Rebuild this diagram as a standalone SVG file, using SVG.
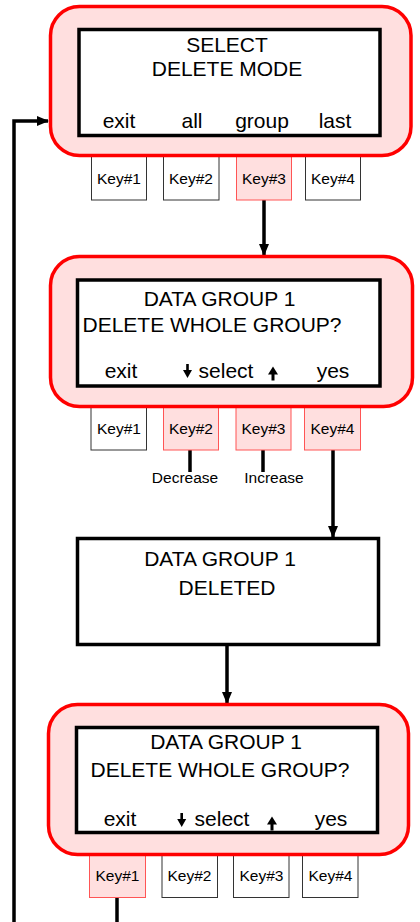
<svg xmlns="http://www.w3.org/2000/svg" width="420" height="922" viewBox="0 0 420 922">
<defs>
<style>
.outer{fill:#ffdfdf;stroke:#ff0000;stroke-width:3.5}
.inner{fill:#ffffff;stroke:#000000;stroke-width:3.5}
.key{fill:#ffffff;stroke:#333333;stroke-width:1}
.keyon{fill:#ffdfdf;stroke:#ff5555;stroke-width:1}
.t{font-family:"Liberation Sans",Arial,sans-serif;font-size:21px;fill:#000;text-anchor:middle}
.k{font-family:"Liberation Sans",Arial,sans-serif;font-size:15.5px;fill:#000;text-anchor:middle}
.c{fill:none;stroke:#000;stroke-width:3.5}
</style>
<marker id="ah" markerWidth="12" markerHeight="12" viewBox="0 0 12 12" refX="11" refY="6" orient="auto" markerUnits="userSpaceOnUse">
<path d="M0,1 L12,6 L0,11 z" fill="#000"/>
</marker>
<path id="dn" d="M-1.3,-14 h2.6 v6 h3.2 L0,0 L-4.5,-8 h3.2 z" fill="#000"/>
<path id="up" d="M-1.5,14 h3 v-6 h3.5 L0,0 L-5,8 h3.5 z" fill="#000"/>
</defs>

<g id="connectors">
<path class="c" d="M264,200 V255" marker-end="url(#ah)"/>
<path class="c" d="M190,450 V472"/>
<path class="c" d="M263,450 V472"/>
<path class="c" d="M333,450 V537" marker-end="url(#ah)"/>
<path class="c" d="M227,645 V703" marker-end="url(#ah)"/>
<path class="c" d="M117,897 V922"/>
<path class="c" d="M14,922 V121 H48" marker-end="url(#ah)"/>
</g>

<g id="node1">
<rect class="key" x="91.5" y="150" width="55" height="50"/>
<rect class="key" x="163.5" y="150" width="55.5" height="50"/>
<rect class="keyon" x="236.5" y="150" width="55" height="50"/>
<rect class="key" x="305.5" y="150" width="55" height="50"/>
<text class="k" x="119" y="184">Key#1</text>
<text class="k" x="191" y="184">Key#2</text>
<text class="k" x="264" y="184">Key#3</text>
<text class="k" x="333" y="184">Key#4</text>
<rect class="outer" x="50.5" y="6.5" width="360.5" height="149" rx="29"/>
<rect class="inner" x="79" y="29.5" width="301" height="106"/>
<text class="t" x="227" y="52">SELECT</text>
<text class="t" x="227" y="76">DELETE MODE</text>
<text class="t" x="119" y="128">exit</text>
<text class="t" x="192" y="128">all</text>
<text class="t" x="262" y="128">group</text>
<text class="t" x="335" y="128">last</text>
</g>

<g id="node2">
<rect class="key" x="91" y="400" width="55.5" height="50"/>
<rect class="keyon" x="163.5" y="400" width="55" height="50"/>
<rect class="keyon" x="236" y="400" width="55" height="50"/>
<rect class="keyon" x="304.5" y="400" width="56" height="50"/>
<text class="k" x="119" y="434">Key#1</text>
<text class="k" x="191" y="434">Key#2</text>
<text class="k" x="263.5" y="434">Key#3</text>
<text class="k" x="332.5" y="434">Key#4</text>
<rect class="outer" x="50.5" y="256.5" width="362" height="150" rx="29"/>
<rect class="inner" x="77.5" y="280" width="302.5" height="106"/>
<text class="t" x="219.5" y="306">DATA GROUP 1</text>
<text class="t" x="212" y="332">DELETE WHOLE GROUP?</text>
<text class="t" x="121" y="378">exit</text>
<text class="t" x="226" y="378">select</text>
<text class="t" x="333" y="378">yes</text>
<use href="#dn" x="187.5" y="378"/>
<use href="#up" x="273" y="366.5"/>
</g>

<g id="labels">
<text class="k" x="185" y="483">Decrease</text>
<text class="k" x="274" y="483">Increase</text>
</g>

<g id="node3">
<rect class="inner" x="77.5" y="538.5" width="301" height="106"/>
<text class="t" x="220" y="566">DATA GROUP 1</text>
<text class="t" x="227" y="595">DELETED</text>
</g>

<g id="node4">
<rect class="keyon" x="89.5" y="848" width="56" height="49.5"/>
<rect class="key" x="162" y="848" width="55.5" height="49.5"/>
<rect class="key" x="233.5" y="848" width="55.5" height="49.5"/>
<rect class="key" x="302.5" y="848" width="55.5" height="49.5"/>
<text class="k" x="117.5" y="881">Key#1</text>
<text class="k" x="189.5" y="881">Key#2</text>
<text class="k" x="261.5" y="881">Key#3</text>
<text class="k" x="330.5" y="881">Key#4</text>
<rect class="outer" x="48.5" y="704.5" width="360" height="150" rx="29"/>
<rect class="inner" x="76.5" y="727.5" width="301" height="105"/>
<text class="t" x="226" y="749">DATA GROUP 1</text>
<text class="t" x="220" y="777">DELETE WHOLE GROUP?</text>
<text class="t" x="120" y="826">exit</text>
<text class="t" x="222" y="826">select</text>
<text class="t" x="331" y="826">yes</text>
<use href="#dn" x="181.7" y="827"/>
<use href="#up" x="272" y="816.5"/>
</g>
</svg>
